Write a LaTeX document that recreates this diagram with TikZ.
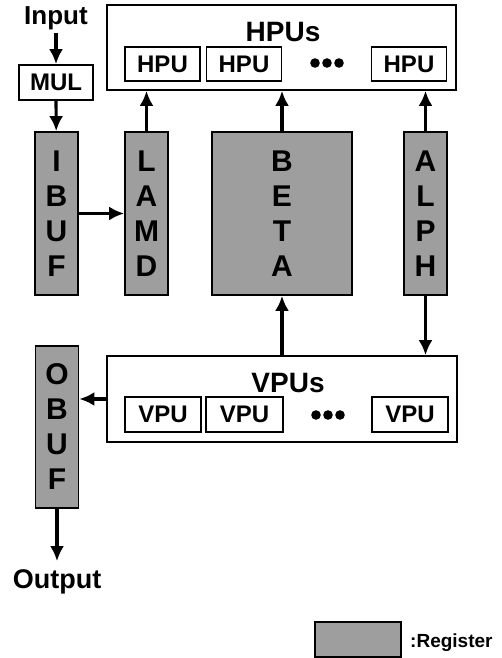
\documentclass[tikz,border=0pt]{standalone}
\usepackage{fontspec}
\setmainfont{Liberation Sans}
\usepackage{tikz}
\usetikzlibrary{arrows.meta}
\tikzset{>=Latex}
\tikzstyle{cell} = [draw=black, line width=1.7pt, minimum width=75pt, minimum height=34pt, inner sep=0pt, font=\fontsize{24}{24}\selectfont\bfseries]
\tikzstyle{pubox} = [draw=black, line width=1.7pt, minimum width=350pt, minimum height=86pt]
\tikzstyle{register} = [draw=black, line width=1.7pt, fill=black!38, minimum width=43pt, minimum height=163pt, inner sep=0pt, align=center, font=\fontsize{30}{35}\selectfont\bfseries]
\tikzstyle{iotext} = [inner sep=2pt, font=\fontsize{26}{26}\selectfont\bfseries]
\tikzstyle{arrow} = [line width=3.2pt, -{Latex[length=15pt,width=14pt]}]

\begin{document}
\begin{tikzpicture}[x=1pt, y=-1pt]
    \useasboundingbox (0,0) rectangle (501,658);

    % input side
    \node[iotext, anchor=base] (input) at (56,25) {Input};
    \node[cell, minimum width=74pt, minimum height=35pt] (mul) at (56,82.5) {MUL};

    % registers
    \node[register] (ibuf) at (56.5,213.5) {I\\B\\U\\F};
    \node[register] (lamd) at (146.5,213.5) {L\\A\\M\\D};
    \node[register, minimum width=140pt] (beta) at (282,213.5) {B\\E\\T\\A};
    \node[register] (alph) at (425.5,213.5) {A\\L\\P\\H};
    \node[register, minimum height=162pt] (obuf) at (57,427) {O\\B\\U\\F};

    % horizontal processing units
    \node[pubox, minimum width=349pt, minimum height=85pt] (hpus) at (281.5,47.5) {};
    \node[iotext, anchor=base, font=\fontsize{28}{28}\selectfont\bfseries] (hpulabel) at (283,42) {HPUs};
    \node[cell] (hpua) at (162.5,64) {HPU};
    \node[cell] (hpub) at (244,64) {HPU};
    \node[cell] (hpun) at (409,64) {HPU};
    \foreach \x in {315,327,339}
        \fill (\x,63) circle (4.8pt);

    % vertical processing units
    \node[pubox] (vpus) at (282,399) {};
    \node[iotext, anchor=base, font=\fontsize{28}{28}\selectfont\bfseries] (vpulabel) at (288,392) {VPUs};
    \node[cell, minimum width=76pt, minimum height=35pt] (vpua) at (163,414.5) {VPU};
    \node[cell, minimum width=77pt, minimum height=35pt] (vpub) at (244.5,414.5) {VPU};
    \node[cell, minimum width=76pt, minimum height=35pt] (vpun) at (410,414.5) {VPU};
    \foreach \x in {316,328,340}
        \fill (\x,415) circle (4.8pt);

    % output side
    \node[iotext, anchor=base, outer sep=6pt, font=\fontsize{27}{27}\selectfont\bfseries] (output) at (57,588) {Output};

    % legend
    \node[register, minimum width=86pt, minimum height=35pt] (legend) at (358,639.5) {};
    \node[anchor=base west, inner sep=0pt, font=\fontsize{19}{19}\selectfont\bfseries] (legendtext) at (410,647) {:Register};

    % data flow
    \draw[arrow] (input) -- (mul);
    \draw[arrow] (mul) -- (ibuf);
    \draw[arrow] (ibuf) -- (lamd);
    \draw[arrow] (lamd.north) -- (lamd.north |- hpus.south);
    \draw[arrow] (beta.north) -- (beta.north |- hpus.south);
    \draw[arrow] (alph.north) -- (alph.north |- hpus.south);
    \draw[arrow] (beta.south |- vpus.north) -- (beta.south);
    \draw[arrow] (alph.south) -- (alph.south |- vpus.north);
    \draw[arrow] (vpus.west) -- (vpus.west -| obuf.east);
    \draw[arrow] (obuf) -- (output);
\end{tikzpicture}
\end{document}
